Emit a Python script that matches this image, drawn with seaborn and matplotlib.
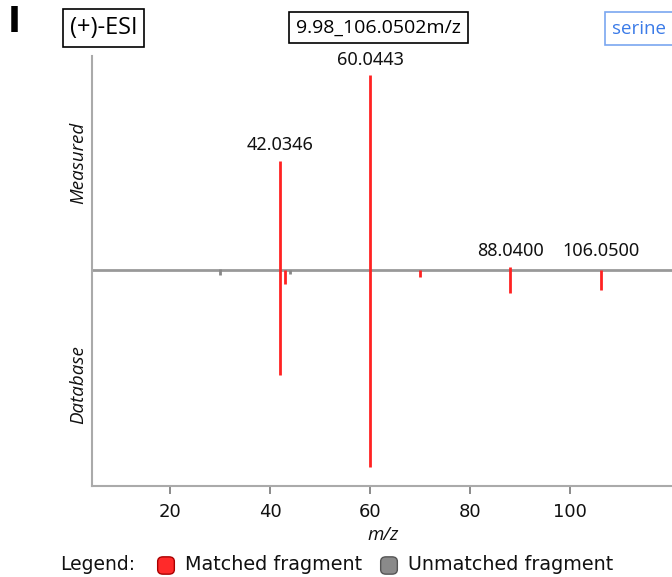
import matplotlib
matplotlib.use("Agg")
import matplotlib.pyplot as plt
from matplotlib.patches import FancyBboxPatch
import seaborn as sns
import numpy as np

# ---- data ----
matched_mz = [42.0346, 43.04, 60.0443, 70.03, 88.0400, 106.0500]
matched_measured = [56.0, 0.0, 100.0, 0.0, 1.4, 0.0]
matched_database = [54.0, 7.3, 101.0, 3.6, 11.8, 10.3]
matched_labels = ["42.0346", "", "60.0443", "", "88.0400", "106.0500"]

unmatched_mz = [30.03, 44.05]
unmatched_measured = [0.6, 0.0]
unmatched_database = [2.5, 2.2]

xticks = [20, 40, 60, 80, 100]

sns.set_theme(style="white")
plt.rcParams["font.family"] = ["DejaVu Sans"]

W, H = 672, 577
fig = plt.figure(figsize=(W / 100, H / 100), dpi=100)

def fx(px):
    return px / W

def fy(py):
    return 1 - py / H

ax = fig.add_axes([fx(92), fy(486), fx(672) - fx(92) + 0.002, fy(56) - fy(486)])
ax.set_xlim(4.4, 120.6)
ax.set_ylim(-111, 110)

grey = "#999999"
red = "#ff2222"

ax.axhline(0, color=grey, lw=2, zorder=1)
ax.vlines(unmatched_mz, [-d for d in unmatched_database], unmatched_measured,
          color="#888888", lw=2, zorder=2)
ax.vlines(matched_mz, [-d for d in matched_database], matched_measured,
          color=red, lw=2, zorder=3)

for mz, m, lab in zip(matched_mz, matched_measured, matched_labels):
    if lab:
        ax.annotate(lab, (mz, max(m, 1.4)), xytext=(0, 5), textcoords="offset points",
                    ha="center", va="bottom", fontsize=13, family="Noto Sans",
                    color="#111111")

sns.despine(ax=ax, top=True, right=True)
for s in ["left", "bottom"]:
    ax.spines[s].set_color("#aaaaaa")
    ax.spines[s].set_linewidth(1.5)

ax.set_xticks(xticks)
ax.set_xticklabels([str(t) for t in xticks], fontsize=13, color="#111111")
ax.tick_params(axis="x", direction="out", length=6, width=1.2, color="#777777",
               bottom=True, pad=6)
ax.set_yticks([])

ax.set_xlabel("m/z", fontsize=13.5, style="italic", family="Open Sans", labelpad=4,
              color="#111111")

# side labels
fig.text(fx(78), fy(163), "Measured", rotation=90, ha="center", va="center",
         fontsize=13.5, style="italic", family="Open Sans", color="#111111")
fig.text(fx(78), fy(385), "Database", rotation=90, ha="center", va="center",
         fontsize=13.5, style="italic", family="Open Sans", color="#111111")

# panel letter
fig.text(fx(8), fy(22), "I", fontsize=25, fontweight="bold", ha="left", va="center",
         family="DejaVu Sans", color="black")

# header boxes
fig.text(fx(103.5), fy(28), "(+)-ESI", fontsize=17, ha="center", va="center",
         family="Open Sans", color="black",
         bbox=dict(boxstyle="square,pad=0.3", fc="white", ec="black", lw=1.2))
fig.text(fx(378.5), fy(27.5), "9.98_106.0502m/z", fontsize=14, ha="center", va="center",
         family="Open Sans", color="black",
         bbox=dict(boxstyle="square,pad=0.35", fc="white", ec="black", lw=1.2))
fig.text(fx(612), fy(28.5), "serine", fontsize=13.5, ha="left", va="center",
         family="Open Sans", color="#3b7be8",
         bbox=dict(boxstyle="square,pad=0.4", fc="white", ec="#7aa7f0", lw=1.2))

# legend
fig.text(fx(60), fy(564), "Legend:", fontsize=13.5, ha="left", va="center", color="#111111")
for cx, fc, ec, lab in [(166, "#ff2a2a", "#aa0000", "Matched fragment"),
                         (389, "#8a8a8a", "#555555", "Unmatched fragment")]:
    p = FancyBboxPatch((fx(cx - 7), fy(573)), fx(14), fy(558) - fy(573),
                       boxstyle="round,pad=0.002,rounding_size=0.008",
                       transform=fig.transFigure, fc=fc, ec=ec, lw=1, clip_on=False)
    fig.patches.append(p)
    fig.text(fx(cx + 19), fy(565), lab, fontsize=13.8, ha="left", va="center",
             color="#111111")

fig.savefig("out.png", dpi=100)
